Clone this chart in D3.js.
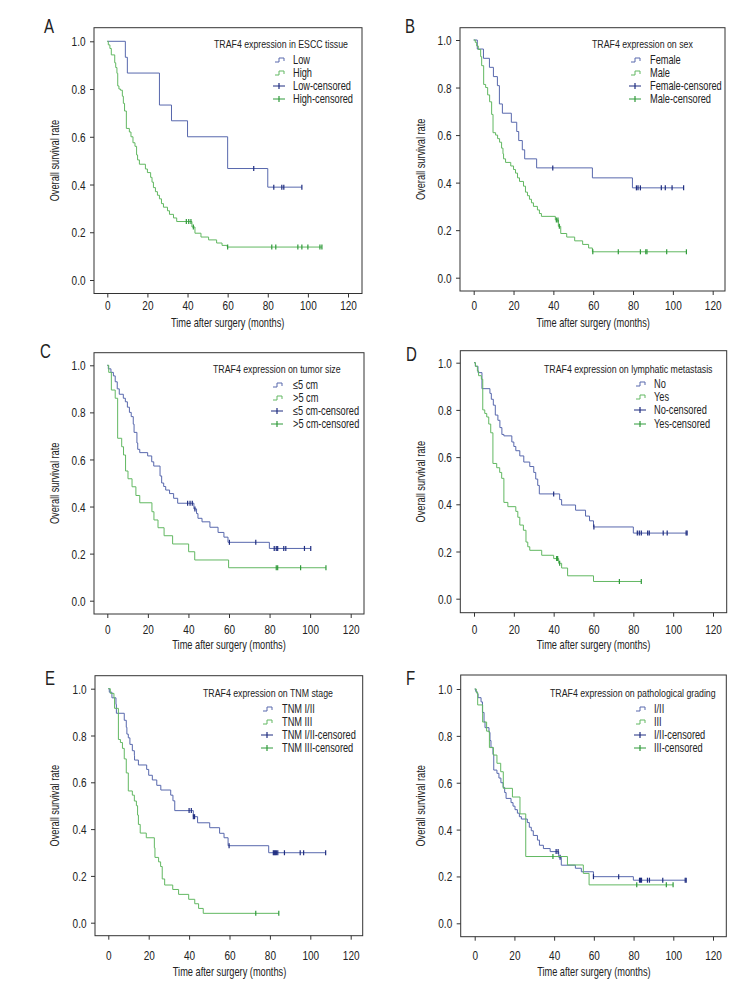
<!DOCTYPE html>
<html>
<head>
<meta charset="utf-8">
<script src="https://cdn.jsdelivr.net/npm/d3@7/dist/d3.min.js"></script>
<style>
  html, body { margin: 0; padding: 0; background: #fff; }
  svg { display: block; }
  text { font-family: "Liberation Sans", Arial, sans-serif; fill: #222; }
</style>
</head>
<body>
<svg id="chart" width="756" height="996"></svg>
<script>
// ---------------- DATA ----------------
const xTicks = [0, 20, 40, 60, 80, 100, 120];
const yTicks = [0.0, 0.2, 0.4, 0.6, 0.8, 1.0];
const panelLetters = ["A", "B", "C", "D", "E", "F"];
const legendTitles = [
  "TRAF4 expression in ESCC tissue",
  "TRAF4 expression on sex",
  "TRAF4 expression on tumor size",
  "TRAF4 expression on lymphatic metastasis",
  "TRAF4 expression on TNM stage",
  "TRAF4 expression on pathological grading"
];
const groupNames = [
  ["Low", "High"],
  ["Female", "Male"],
  ["\u22645 cm", ">5 cm"],
  ["No", "Yes"],
  ["TNM I/II", "TNM III"],
  ["I/II", "III"]
];
const xTitle = "Time after surgery (months)";
const yTitle = "Overall survival rate";

// Kaplan-Meier step points [months, survival] and censor times (months)
const A_low = [[0,1],[9,0.933],[10,0.867],[26,0.733],[32,0.667],[40,0.6],[60,0.467],[80,0.389]];
const A_lowCens = [73,83,87,88,97];
const A_high = [[0,1],[0.5,0.985],[1.3,0.97],[2,0.943],[3.7,0.91],[4.2,0.89],[4.8,0.866],[5.2,0.813],[5.8,0.80],[6.6,0.795],[7.5,0.77],[8,0.74],[8.6,0.708],[9.5,0.635],[11,0.62],[11.8,0.60],[12.8,0.575],[13.8,0.56],[14.6,0.524],[15.1,0.503],[16,0.485],[19,0.465],[20,0.45],[21.6,0.43],[22.3,0.41],[23,0.387],[24,0.37],[25,0.355],[26,0.34],[27,0.32],[28,0.305],[30,0.29],[31,0.275],[33,0.26],[34.6,0.245],[42.2,0.222],[43.7,0.196],[46.7,0.18],[50.5,0.168],[54.5,0.155],[57.2,0.145],[59.8,0.138]];
const A_highCens = [39.4,40.6,41.7,42.9,60,82,84,95,97,100,106,107];

const B_female = [[0,1],[1.8,0.962],[4.9,0.923],[7.9,0.885],[9.9,0.846],[11.9,0.808],[12.9,0.731],[14.4,0.692],[18.9,0.654],[21.6,0.615],[22.6,0.577],[24.4,0.538],[25.6,0.5],[31.6,0.462],[59.6,0.42],[79.7,0.378]];
const B_femaleCens = [39.7,81.7,82.5,83.7,94.2,96.2,99.6,105.4];
const B_male = [[0,1],[0.8,0.99],[1.5,0.975],[2.3,0.96],[3.5,0.93],[4,0.892],[5,0.813],[6,0.80],[7,0.769],[8,0.74],[9,0.687],[9.7,0.61],[11,0.60],[12,0.585],[13,0.57],[14,0.545],[14.7,0.521],[15,0.50],[16,0.485],[18.6,0.47],[20,0.455],[21,0.44],[22,0.42],[23,0.405],[25,0.385],[26,0.36],[27,0.345],[28,0.33],[29,0.315],[30,0.30],[32,0.285],[33,0.27],[34,0.258],[41,0.243],[42.5,0.216],[43.7,0.186],[46.7,0.171],[50.7,0.155],[54.7,0.14],[57.7,0.125],[59.6,0.109]];
const B_maleCens = [41.5,42.3,43,59.8,72.6,83.7,86.4,87,96.9,106.8];

const C_small = [[0,1],[0.5,0.985],[1.8,0.97],[3,0.955],[3.9,0.93],[4.9,0.90],[5.9,0.877],[7.9,0.86],[8.9,0.845],[9.9,0.822],[10.9,0.80],[11.8,0.782],[12.8,0.75],[13.2,0.715],[14.6,0.67],[15,0.643],[16,0.629],[19.9,0.615],[21.9,0.59],[22.9,0.572],[26,0.53],[26.8,0.50],[27.8,0.485],[28.8,0.47],[30.7,0.455],[32.7,0.435],[34.7,0.414],[42.7,0.39],[44,0.37],[44.7,0.35],[46.7,0.335],[50.6,0.312],[54.6,0.29],[57.5,0.27],[59.5,0.248],[79.9,0.222]];
const C_smallCens = [39.6,40.8,41.9,43.2,60.2,73.2,82.3,83.3,84,87,88,97.2,100.3];
const C_large = [[0,1],[0.7,0.97],[2,0.895],[3.9,0.86],[5.1,0.69],[7.1,0.654],[8,0.619],[9,0.551],[10.2,0.518],[12.2,0.484],[14.1,0.447],[16,0.416],[22,0.378],[23,0.343],[25,0.31],[28,0.276],[32.2,0.241],[40.1,0.208],[43.1,0.173],[59.8,0.14]];
const C_largeCens = [83.3,84,95.3,107.8];

const D_no = [[0,1],[0.7,0.985],[2,0.958],[4,0.89],[8,0.87],[8.7,0.845],[9.7,0.82],[10.7,0.778],[12,0.756],[13,0.725],[14,0.696],[15,0.69],[19,0.664],[20,0.645],[21,0.627],[23,0.605],[25,0.579],[28,0.56],[30,0.535],[31,0.507],[32,0.48],[32.8,0.444],[43,0.42],[44,0.397],[51,0.375],[56,0.35],[58,0.33],[60,0.304],[80,0.278]];
const D_noCens = [40,60.2,82,83,84,87.2,88,95,97,106.5,107];
const D_yes = [[0,1],[0.7,0.985],[1.7,0.965],[2.3,0.945],[3.7,0.93],[4.4,0.80],[5.4,0.785],[6.4,0.77],[7.4,0.74],[8.4,0.703],[9.5,0.573],[11.4,0.555],[12.9,0.535],[13.9,0.51],[15,0.408],[17,0.39],[21,0.37],[22,0.345],[23,0.312],[24.8,0.29],[26.1,0.24],[27,0.22],[28,0.205],[34,0.184],[40,0.17],[42.5,0.15],[44,0.13],[47,0.097],[60,0.073]];
const D_yesCens = [41.5,42,43,73,84];

const E_early = [[0,1],[0.5,0.985],[1.8,0.961],[3.8,0.933],[4,0.895],[7.9,0.865],[8.9,0.835],[9.2,0.806],[9.9,0.79],[10.7,0.762],[11.9,0.735],[12.9,0.715],[13,0.695],[14.9,0.674],[19,0.655],[20,0.63],[21.8,0.61],[24,0.587],[26,0.567],[30.9,0.545],[32,0.521],[32.9,0.479],[42.1,0.453],[44.2,0.427],[50.2,0.406],[55.1,0.382],[57.3,0.363],[59.3,0.329],[79.4,0.299]];
const E_earlyCens = [40,41.1,42.1,42.7,59.8,81.7,82.2,82.7,83.2,83.9,87.2,95,96.7,107.6];
const E_late = [[0,1],[1,0.98],[2.8,0.96],[3.1,0.916],[5,0.783],[6,0.77],[7,0.745],[7.9,0.70],[8.9,0.64],[9.9,0.563],[11.9,0.545],[12.9,0.52],[13.9,0.50],[14.5,0.46],[14.9,0.42],[15.8,0.383],[18.8,0.363],[22.8,0.32],[23.1,0.279],[24.9,0.26],[25.9,0.24],[26.7,0.187],[27.9,0.161],[31.9,0.142],[34.8,0.121],[39.8,0.10],[42.8,0.081],[44.7,0.061],[47,0.04]];
const E_lateCens = [73,84.4];

const F_low = [[0,1],[0.5,0.99],[1.2,0.98],[1.7,0.963],[3.2,0.945],[3.9,0.90],[4.7,0.86],[5.2,0.835],[7.2,0.815],[7.7,0.78],[8.2,0.751],[9.2,0.721],[9.6,0.654],[11.2,0.64],[12.2,0.62],[13.2,0.60],[14.3,0.58],[15.1,0.558],[15.8,0.533],[18.3,0.515],[19.3,0.50],[20.3,0.485],[21.5,0.47],[22.5,0.455],[23.5,0.445],[26.5,0.43],[27.5,0.41],[28.5,0.395],[29.5,0.375],[31.6,0.355],[32.6,0.333],[34.6,0.319],[38,0.306],[42.3,0.282],[43.6,0.248],[50.7,0.235],[53.7,0.22],[59.8,0.199],[79.9,0.184]];
const F_lowCens = [41,42,43,59.8,72.5,83,83.5,84,87,88,94.7,106,106.5];
const F_high = [[0,1],[0.8,0.985],[1.5,0.932],[4,0.859],[6,0.82],[7.4,0.75],[9.4,0.718],[11.2,0.683],[13.1,0.647],[14.4,0.576],[19,0.539],[22.8,0.467],[25.7,0.285],[46.7,0.249],[54.7,0.213],[57.6,0.164]];
const F_highCens = [39.4,81.6,96.5,99.9];

const curves = [
  [[A_low, A_lowCens], [A_high, A_highCens]],
  [[B_female, B_femaleCens], [B_male, B_maleCens]],
  [[C_small, C_smallCens], [C_large, C_largeCens]],
  [[D_no, D_noCens], [D_yes, D_yesCens]],
  [[E_early, E_earlyCens], [E_late, E_lateCens]],
  [[F_low, F_lowCens], [F_high, F_highCens]]
];

// ---------------- LAYOUT ----------------
const layout = [
  {x0:107.3, x1:348.0, y0:280.0, y1:41.3, fL:94,    fT:27.7,  fR:362,   fB:293.5, tX:214,   tY:44,    sX:275,   lX:293,   rows:[60,73,86,99],        letX:44,  letY:33,  yTx:55,    xLy:305,   xTy:323},
  {x0:473.7, x1:712.7, y0:277.7, y1:40.0, fL:460,   fT:27.7,  fR:725,   fB:291,   tX:592,   tY:44,    sX:631,   lX:650,   rows:[60,73,86,99],        letX:405, letY:33,  yTx:421,   xLy:305,   xTy:323},
  {x0:107.3, x1:350.7, y0:600.7, y1:365.3,fL:94,    fT:352.7, fR:364,   fB:614,   tX:213,   tY:369,   sX:273,   lX:293,   rows:[385,398,411,424],    letX:40,  letY:358, yTx:55,    xLy:629,   xTy:645},
  {x0:474.0, x1:713.0, y0:598.7, y1:362.7,fL:460.3, fT:350.7, fR:726.7, fB:612.7, tX:544,   tY:369,   sX:636,   lX:654,   rows:[384,397,410,424],    letX:406, letY:361, yTx:421,   xLy:629,   xTy:645},
  {x0:108.3, x1:350.7, y0:922.7, y1:688.7,fL:95,    fT:675.7, fR:362.7, fB:935.7, tX:203,   tY:693,   sX:263,   lX:282,   rows:[709,722,735,748],    letX:45,  letY:685, yTx:55,    xLy:955,   xTy:972},
  {x0:474.7, x1:713.0, y0:923.3, y1:689.0,fL:460.7, fT:675,   fR:726.3, fB:936.7, tX:550,   tY:693,   sX:636,   lX:654,   rows:[709,722,735,748],    letX:406, letY:685, yTx:421,   xLy:955,   xTy:972}
];

const lineColors = ["#5868ad", "#62b862"];
const censColors = ["#1f2d80", "#2f9a3a"];
const SX = 0.77; // horizontal condensing of text (narrow face)

const svg = d3.select("#chart");

function ntext(parent, x, y, str, size, anchor, rot) {
  const gg = parent.append("g")
    .attr("transform", `translate(${x},${y})${rot ? " rotate(" + rot + ")" : ""} scale(${SX},1)`);
  return gg.append("text")
    .attr("text-anchor", anchor || "start")
    .attr("dominant-baseline", "central")
    .attr("font-size", size)
    .text(str);
}

function survAt(steps, t) {
  let s = 1;
  for (const p of steps) { if (p[0] <= t) s = p[1]; else break; }
  return s;
}

layout.forEach((L, i) => {
  const g = svg.append("g");
  const x = d3.scaleLinear().domain([0, 120]).range([L.x0, L.x1]);
  const y = d3.scaleLinear().domain([0, 1]).range([L.y0, L.y1]);

  // frame
  g.append("rect")
    .attr("x", L.fL).attr("y", L.fT)
    .attr("width", L.fR - L.fL).attr("height", L.fB - L.fT)
    .attr("fill", "none").attr("stroke", "#333").attr("stroke-width", 1);

  // axes
  const xAxis = d3.axisBottom(x).tickValues(xTicks).tickSize(4).tickSizeOuter(0).tickFormat(d3.format("d"));
  const gx = g.append("g").attr("transform", `translate(0,${L.fB})`).call(xAxis);
  gx.select(".domain").remove();
  gx.selectAll("line").attr("stroke", "#333");
  gx.selectAll("text").attr("font-size", 13).attr("dy", null)
    .attr("y", L.xLy - L.fB).attr("dominant-baseline", "central")
    .attr("transform", `scale(${SX},1)`)
    .style("font-family", '"Liberation Sans", Arial, sans-serif').attr("fill", "#222");

  const yAxis = d3.axisLeft(y).tickValues(yTicks).tickSize(4).tickSizeOuter(0).tickFormat(d3.format(".1f"));
  const gy = g.append("g").attr("transform", `translate(${L.fL},0)`).call(yAxis);
  gy.select(".domain").remove();
  gy.selectAll("line").attr("stroke", "#333");
  gy.selectAll("text").attr("font-size", 13).attr("x", -8.5 / SX).attr("dy", "0.35em")
    .attr("transform", `scale(${SX},1)`)
    .style("font-family", '"Liberation Sans", Arial, sans-serif').attr("fill", "#222");

  // titles
  ntext(g, (L.x0 + L.x1) / 2, L.xTy, xTitle, 12, "middle");
  ntext(g, L.yTx, (L.fT + L.fB) / 2, yTitle, 12, "middle", -90);
  ntext(g, L.letX, L.letY - 7, panelLetters[i], 19.5, "start").attr("fill", "#111");

  // curves
  const line = d3.line().x(d => x(d[0])).y(d => y(d[1])).curve(d3.curveStepAfter);
  curves[i].forEach((c, k) => {
    const steps = c[0], cens = c[1];
    const endT = Math.max(steps[steps.length - 1][0], d3.max(cens));
    const pts = steps.concat([[endT, steps[steps.length - 1][1]]]);
    g.append("path").attr("d", line(pts)).attr("fill", "none")
      .attr("stroke", lineColors[k]).attr("stroke-width", 1);
    g.selectAll(null).data(cens).enter().append("line")
      .attr("x1", d => x(d)).attr("x2", d => x(d))
      .attr("y1", d => y(survAt(steps, d)) - 2.5)
      .attr("y2", d => y(survAt(steps, d)) + 2.5)
      .attr("stroke", censColors[k]).attr("stroke-width", 1.2);
  });

  // legend
  ntext(g, L.tX, L.tY, legendTitles[i], 11.4, "start");
  const labels = [groupNames[i][0], groupNames[i][1], groupNames[i][0] + "-censored", groupNames[i][1] + "-censored"];
  labels.forEach((lab, r) => {
    const yy = L.rows[r];
    if (r < 2) {
      const sx = L.sX;
      g.append("path")
        .attr("d", `M${sx},${yy + 2}H${sx + 4}V${yy - 2}H${sx + 9}V${yy + 1}`)
        .attr("fill", "none").attr("stroke", lineColors[r]).attr("stroke-width", 1);
    } else {
      const sx = L.sX - 2;
      g.append("line").attr("x1", sx).attr("x2", sx + 12).attr("y1", yy).attr("y2", yy)
        .attr("stroke", censColors[r - 2]).attr("stroke-width", 1);
      g.append("line").attr("x1", sx + 6).attr("x2", sx + 6).attr("y1", yy - 3).attr("y2", yy + 3)
        .attr("stroke", censColors[r - 2]).attr("stroke-width", 1.2);
    }
    ntext(g, L.lX, yy, lab, 12, "start");
  });
});
</script>
</body>
</html>
